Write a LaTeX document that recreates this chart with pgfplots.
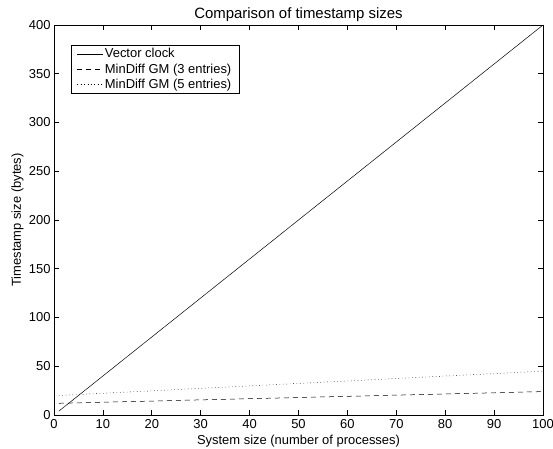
\documentclass[border=0pt]{standalone}
\usepackage{fontspec}
\setmainfont{Liberation Sans}
\usepackage{pgfplots}
\pgfplotsset{compat=1.18}
\usetikzlibrary{calc}
\begin{document}
\begin{tikzpicture}
\begin{axis}[
    width=489bp, height=390bp,
    scale only axis,
    xmin=0, xmax=100, ymin=0, ymax=400,
    xtick={0,10,...,100}, ytick={0,50,...,400},
    tick align=inside, tick pos=both,
    major tick length=5bp,
    axis line style={line width=0.9pt},
    every tick/.style={black, line width=0.7pt},
    /pgf/number format/assume math mode=true,
    tick label style={font=\fontsize{13}{14}\selectfont},
    xticklabel style={yshift=-1.2bp},
    every axis title shift=0pt,
    title style={font=\fontsize{15}{16}\selectfont,
        at={(axis description cs:0.5,1)}, anchor=base, yshift=6.5bp},
    title={Comparison of timestamp sizes},
    xlabel={System size (number of processes)},
    ylabel={Timestamp size (bytes)},
    xlabel style={font=\fontsize{13}{14}\selectfont,
        at={(axis description cs:0.5,0)}, anchor=base, yshift=-29bp},
    ylabel style={font=\fontsize{13}{14}\selectfont,
        at={(axis description cs:0,0.5)}, anchor=base, yshift=33bp},
    legend style={at={(axis description cs:0,1)}, anchor=north west,
        xshift=16.7bp, yshift=-20bp, draw=black, line width=0.8pt,
        font=\fontsize{13}{14}\selectfont,
        inner xsep=6bp, inner ysep=1bp, row sep=0pt,
        nodes={inner xsep=2bp, inner ysep=2.2bp},
        cells={anchor=west}},
    legend image code/.code={%
        \path (0bp,0bp) -- (25.3bp,0bp);
        \draw[#1, line width=0.5pt] (0bp,0bp) -- (21bp,0bp);},
]
\addplot[black, line width=0.5pt] coordinates {(1,4) (100,400)};
\addlegendentry{Vector clock}
\addplot[black, line width=0.5pt, dash pattern=on 5bp off 4bp] coordinates {(1,12) (100,24)};
\addlegendentry{MinDiff GM (3 entries)}
\addplot[black, line width=0.5pt, dash pattern=on 0.6bp off 2.8bp] coordinates {(1,20) (100,45)};
\addlegendentry{MinDiff GM (5 entries)}
\coordinate (ll) at (rel axis cs:0,0);
\coordinate (ur) at (rel axis cs:1,1);
\end{axis}
\pgfresetboundingbox
\path ($(ll)+(-54bp,-34bp)$) rectangle ($(ur)+(10bp,25bp)$);
\end{tikzpicture}
\end{document}
